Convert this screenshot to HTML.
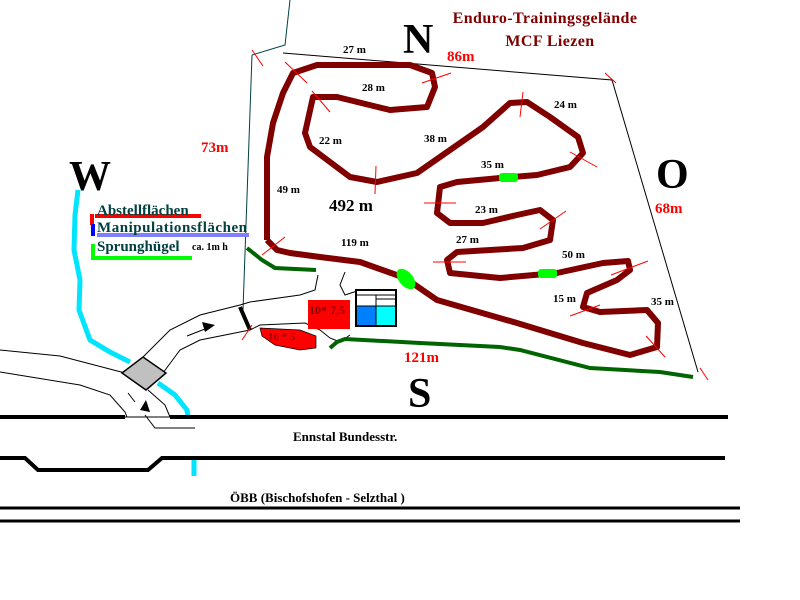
<!DOCTYPE html>
<html><head><meta charset="utf-8"><style>
html,body{margin:0;padding:0;background:#fff;}
svg{display:block;font-family:"Liberation Serif",serif;font-weight:bold;}
</style></head><body>
<svg width="800" height="600" viewBox="0 0 800 600" xmlns="http://www.w3.org/2000/svg">
<polyline points="290,0 285,45 252,55" fill="none" stroke="#004040" stroke-width="1"/>
<polyline points="252,55 243,310" fill="none" stroke="#004040" stroke-width="1"/>
<polyline points="283,53 612,80 698,372" fill="none" stroke="#000" stroke-width="1"/>
<polyline points="78,190 75,215 74,250 80,280 79,310 90,340 110,352 130,362" fill="none" stroke="#00e5ff" stroke-width="5"/>
<polyline points="158,383 175,395 187,410 188,416" fill="none" stroke="#00e5ff" stroke-width="5"/>
<line x1="194" y1="460" x2="194" y2="476" stroke="#00e5ff" stroke-width="5"/>
<polyline points="0,350 60,356 125,373" fill="none" stroke="#000" stroke-width="1"/>
<polyline points="0,372 80,385 110,395 125,412 127,417" fill="none" stroke="#000" stroke-width="1"/>
<polyline points="143,357 170,330 200,315 240,305 250,302 300,295 315,290 318,275" fill="none" stroke="#000" stroke-width="1"/>
<polyline points="160,377 180,350 200,340 250,330 260,325 305,323 320,330 330,338 340,342 350,335" fill="none" stroke="#000" stroke-width="1"/>
<polyline points="148,390 165,405 170,417" fill="none" stroke="#000" stroke-width="1"/>
<polyline points="128,393 135,402" fill="none" stroke="#000" stroke-width="1"/>
<polyline points="125,417 170,417" stroke="#000" stroke-width="1"/>
<polyline points="145,415 155,428 195,428" fill="none" stroke="#000" stroke-width="1"/>
<polyline points="345,272 340,285 345,295 360,290 395,290" fill="none" stroke="#000" stroke-width="1"/>
<line x1="187" y1="336" x2="210" y2="327" stroke="#000" stroke-width="1"/>
<polygon points="202,322 215,325 205,332" fill="#000"/>
<polygon points="140,410 146,400 150,412" fill="#000"/>
<polygon points="122,373 143,357 166,373 146,390" fill="#c0c0c0" stroke="#000" stroke-width="1.5"/>
<line x1="240" y1="307" x2="250" y2="330" stroke="#000" stroke-width="4"/>
<line x1="0" y1="417" x2="125" y2="417" stroke="#000" stroke-width="4"/>
<line x1="170" y1="417" x2="728" y2="417" stroke="#000" stroke-width="4"/>
<polyline points="0,458 25,458 38,470 148,470 162,458 725,458" fill="none" stroke="#000" stroke-width="4"/>
<line x1="0" y1="508" x2="740" y2="508" stroke="#000" stroke-width="3"/>
<line x1="0" y1="521" x2="740" y2="521" stroke="#000" stroke-width="3"/>
<polyline points="247,248 262,260 275,268 316,270" fill="none" stroke="#006400" stroke-width="4"/>
<polyline points="330,348 337,342 345,339 420,343 500,347 520,350 590,368 660,372 693,377" fill="none" stroke="#006400" stroke-width="4"/>
<rect x="308" y="300" width="42" height="29" fill="#ff0000"/>
<path d="M260,328 L300,330 L316,336 L316,348 L300,350 L275,345 L262,336 Z" fill="#ff0000" stroke="#000" stroke-width="0.7"/>
<text x="309" y="314" font-size="12" fill="#800000">10* 7,5</text>
<text x="268" y="340" font-size="11" fill="#a00000">16 * 5</text>
<rect x="356" y="290" width="40" height="36" fill="#fff" stroke="#000" stroke-width="2"/>
<rect x="357" y="306" width="19" height="19" fill="#0080ff"/>
<rect x="376" y="306" width="19" height="19" fill="#00ffff"/>
<line x1="376" y1="295" x2="376" y2="326" stroke="#000" stroke-width="1"/>
<line x1="357" y1="306" x2="395" y2="306" stroke="#000" stroke-width="1"/>
<line x1="376" y1="299" x2="395" y2="299" stroke="#000" stroke-width="1"/>
<line x1="357" y1="295" x2="395" y2="295" stroke="#000" stroke-width="1"/>
<polyline fill="none" stroke="#800000" stroke-width="6" stroke-linejoin="round" points="267,240 277,250 290,253 320,257 360,262 405,278 437,300 517,323 583,343 630,355 657,347 658,323 647,310 600,312 583,307 587,293 617,280 630,270 628,261 603,263 557,273 500,278 450,273 447,260 457,252 523,248 550,240 553,220 540,210 517,215 483,223 450,223 437,213 440,187 457,182 500,178 537,175 570,167 583,153 578,137 550,117 527,102 510,103 483,127 450,150 417,173 377,182 350,177 310,147 305,133 313,97 337,97 390,110 427,107 435,87 432,73 410,65 317,65 293,73 283,93 273,123 267,157 267,240"/>
<ellipse cx="406" cy="279" rx="7" ry="12" transform="rotate(-40 406 279)" fill="#00ff00"/>
<rect x="499" y="173" width="19" height="9" rx="3" fill="#00ff00"/>
<rect x="538" y="269" width="19" height="9" rx="3" fill="#00ff00"/>
<g stroke="#ff0000" stroke-width="1">
<line x1="252" y1="50" x2="263" y2="66"/><line x1="285" y1="62" x2="307" y2="83"/>
<line x1="312" y1="91" x2="330" y2="112"/><line x1="422" y1="83" x2="451" y2="73"/>
<line x1="376" y1="166" x2="375" y2="194"/><line x1="523" y1="92" x2="520" y2="117"/>
<line x1="570" y1="152" x2="597" y2="167"/><line x1="424" y1="203" x2="456" y2="203"/>
<line x1="540" y1="229" x2="566" y2="211"/><line x1="433" y1="262" x2="466" y2="262"/>
<line x1="611" y1="275" x2="648" y2="261"/><line x1="570" y1="316" x2="600" y2="305"/>
<line x1="646" y1="336" x2="665" y2="357"/><line x1="262" y1="255" x2="285" y2="237"/>
<line x1="605" y1="73" x2="616" y2="83"/><line x1="242" y1="340" x2="252" y2="325"/>
<line x1="700" y1="368" x2="708" y2="380"/>
</g>
<g font-size="11" fill="#000">
<text x="343" y="53">27 m</text><text x="362" y="91">28 m</text>
<text x="319" y="144">22 m</text><text x="424" y="142">38 m</text>
<text x="554" y="108">24 m</text><text x="481" y="168">35 m</text>
<text x="277" y="193">49 m</text><text x="475" y="213">23 m</text>
<text x="456" y="243">27 m</text><text x="341" y="246">119 m</text>
<text x="562" y="258">50 m</text><text x="553" y="302">15 m</text>
<text x="651" y="305">35 m</text>
</g>
<text x="329" y="211" font-size="17" fill="#000">492 m</text>
<text x="403" y="53" font-size="42" fill="#000">N</text>
<text x="69" y="190" font-size="42" fill="#000">W</text>
<text x="656" y="188" font-size="42" fill="#000">O</text>
<text x="408" y="407" font-size="42" fill="#000">S</text>
<g font-size="15" fill="#ff0000">
<text x="447" y="61">86m</text><text x="201" y="152">73m</text>
<text x="655" y="213">68m</text><text x="404" y="362">121m</text>
</g>
<text x="545" y="23" font-size="16" fill="#800000" text-anchor="middle" letter-spacing="0.4">Enduro-Trainingsgelände</text>
<text x="550" y="46" font-size="16" fill="#800000" text-anchor="middle" letter-spacing="0.4">MCF Liezen</text>
<polyline points="92,225 92,214" stroke="#ff0000" stroke-width="4"/>
<line x1="95" y1="216" x2="201" y2="216" stroke="#ff0000" stroke-width="4"/>
<line x1="93" y1="224" x2="93" y2="236" stroke="#0000ff" stroke-width="4"/>
<line x1="97" y1="235" x2="249" y2="235" stroke="#8080ff" stroke-width="4"/>
<polyline points="93,244 93,258 192,258" fill="none" stroke="#00ff00" stroke-width="4"/>
<g font-size="15" fill="#004040">
<text x="97" y="215">Abstellflächen</text>
<text x="97" y="232" textLength="150">Manipulationsflächen</text>
<text x="97" y="251">Sprunghügel</text>
</g>
<text x="192" y="250" font-size="10" fill="#000">ca. 1m h</text>
<text x="293" y="441" font-size="13" fill="#000">Ennstal Bundesstr.</text>
<text x="230" y="502" font-size="13" fill="#000">ÖBB (Bischofshofen - Selzthal )</text>
</svg>
</body></html>
